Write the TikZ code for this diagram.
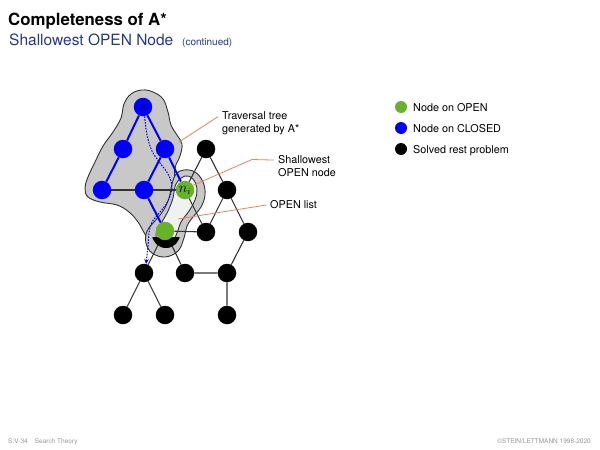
\documentclass[tikz,border=0pt]{standalone}
\usepackage{fontspec}
\setmainfont{TeX Gyre Heros}
\usetikzlibrary{arrows.meta}
\definecolor{nodegreen}{RGB}{102,178,40}
\definecolor{subblue}{RGB}{38,56,140}
\definecolor{conn}{RGB}{240,128,100}
\definecolor{edgegray}{RGB}{50,50,50}
\definecolor{blobgray}{RGB}{200,200,200}
\definecolor{openlight}{RGB}{241,241,241}
\definecolor{footgray}{RGB}{150,150,150}
\pgfdeclarelayer{blobs}
\pgfdeclarelayer{edges}
\pgfsetlayers{blobs,edges,main}
\begin{document}
\begin{tikzpicture}[x=1pt,y=-1pt,
  vtx/.style={circle,inner sep=0pt,minimum size=18.5pt,font=\fontsize{13.5}{15}\selectfont},
  closednode/.style={vtx,fill=blue},
  opennode/.style={vtx,fill=nodegreen},
  solvednode/.style={vtx,fill=black},
  legdot/.style={circle,inner sep=0pt,minimum size=12pt},
  bedge/.style={blue,line width=2pt},
  kedge/.style={edgegray,line width=1.1pt},
  conline/.style={conn,line width=0.8pt},
  lbl/.style={font=\fontsize{10.8}{13}\selectfont,anchor=base west,inner sep=0pt},
  foot/.style={font=\fontsize{6.5}{8}\selectfont,text=footgray,inner sep=0pt},
  region/.style={draw=edgegray,line width=0.9pt}
]
\useasboundingbox (0,0) rectangle (600,450);

% titles
\node[anchor=base west,inner sep=0pt,font=\fontsize{16.8}{20}\selectfont\bfseries] (title) at (8,25) {Completeness of A*};
\node[anchor=base west,inner sep=0pt,font=\fontsize{15.5}{18}\selectfont,text=subblue] (sub) at (9,45) {Shallowest OPEN Node};
\node[anchor=base west,inner sep=0pt,font=\fontsize{10}{12}\selectfont,text=subblue] (cont) at (182,45) {(continued)};

% nodes
\node[closednode] (s) at (143,107) {$s$};
\node[closednode] (a1) at (123,149) {};
\node[closednode] (a2) at (165,149) {};
\node[solvednode] (c1) at (206,149) {};
\node[closednode] (b1) at (102,190) {};
\node[closednode] (b2) at (144,190) {};
\node[opennode] (ni) at (185,190) {$n_i$};
\node[solvednode] (c2) at (227,190) {};
\node[opennode] (g) at (165,231) {};
\node[solvednode] (d1) at (206,232) {};
\node[solvednode] (d2) at (248,232) {};
\node[solvednode] (e1) at (144,273) {};
\node[solvednode] (e2) at (185,273) {};
\node[solvednode] (e3) at (227,273) {};
\node[solvednode] (f1) at (123,315) {};
\node[solvednode] (f2) at (165,315) {};
\node[solvednode] (f3) at (227,315) {};

\begin{pgfonlayer}{blobs}
  % traversal tree region
  \fill[blobgray,region] plot[smooth cycle,tension=0.65] coordinates {
    (142,90) (153,92) (163,99) (168,112) (171,125) (177,135) (182,144)
    (180,156) (175,168) (175,182) (178,205) (165,238) (150,240) (138,222)
    (129,212) (117,205) (100,202) (88,197) (85,188) (88,177) (95,162)
    (103,146) (113,132) (121,118) (124,104) (131,94)};
  % ring around OPEN list
  \fill[blobgray,region] plot[smooth cycle,tension=0.65] coordinates {
    (184,170) (195,172) (203,182) (205,195) (201,207) (193,217) (187,226)
    (184,238) (178,251) (165,257) (152,253) (146,243) (147,231) (154,222)
    (163,211) (169,198) (172,184) (176,174)};
  % OPEN list
  \fill[openlight,region] plot[smooth cycle,tension=0.65] coordinates {
    (185,176) (193,179) (197,189) (195,200) (189,211) (181,222) (177,233)
    (171,244) (160,244) (156,234) (162,222) (168,211) (173,198) (176,184)};
\end{pgfonlayer}

\begin{pgfonlayer}{edges}
  \draw[kedge] (b1) -- (b2) -- (ni);
  \draw[kedge] (c1) -- (ni);
  \draw[kedge] (c1) -- (c2) -- (d2) -- (e3) -- (f3);
  \draw[kedge] (ni) -- (d1) -- (c2);
  \draw[kedge] (g) -- (d1);
  \draw[kedge] (g) -- (e1);
  \draw[kedge] (g) -- (e2) -- (e3);
  \draw[kedge] (e1) -- (f1);
  \draw[kedge] (e1) -- (f2);
  \draw[bedge] (s) -- (a1) -- (b1);
  \draw[bedge] (s) -- (a2) -- (b2) -- (g);
  \draw[bedge] (a2) -- (ni);
  \begin{scope}
    \clip (140,237) rectangle (195,262);
    \fill[black] (166,234) circle[radius=14pt];
  \end{scope}
\end{pgfonlayer}

% search path
\coordinate (pathend) at (146,264);
\draw[blue,line width=1pt,dash pattern=on 1.6pt off 1.3pt,-{Stealth[length=5pt,width=4.5pt]}]
  plot[smooth,tension=0.6] coordinates {(s.-80) (147,135) (152,151) (160,163) (168,174) (172,187) (168,201) (160,212) (152,222) (149,233) (148,246) (pathend)};

% annotations
\node[lbl] (tt1) at (222,119.5) {Traversal tree};
\node[lbl] (tt2) at (222,132) {generated by A*};
\node[lbl] (sh1) at (278,163) {Shallowest};
\node[lbl] (sh2) at (278,176) {OPEN node};
\node[lbl] (ol) at (270,208) {OPEN list};
\coordinate (blobpt) at (179,142);
\coordinate (bend) at (252,159.5);
\coordinate (olpt) at (178,219);
\draw[conline] ([xshift=-4pt,yshift=-1pt]tt1.west) -- (blobpt);
\draw[conline] ([xshift=-4pt,yshift=-1pt]sh1.west) -- (bend) -- (ni.30);
\draw[conline] ([xshift=-4pt,yshift=-1pt]ol.west) -- (olpt);

% legend
\node[legdot,fill=nodegreen] (lg1) at (401,107) {};
\node[legdot,fill=blue] (lg2) at (401,128) {};
\node[legdot,fill=black] (lg3) at (401,149) {};
\node[lbl] (lt1) at (413,111) {Node on OPEN};
\node[lbl] (lt2) at (413,132) {Node on CLOSED};
\node[lbl] (lt3) at (413,153) {Solved rest problem};

% footer
\node[foot,anchor=base west] (f1t) at (8,443) {S:V-34\hspace{7pt}Search Theory};
\node[foot,anchor=base east] (f2t) at (591,443) {©STEIN/LETTMANN 1998-2020};
\end{tikzpicture}
\end{document}
